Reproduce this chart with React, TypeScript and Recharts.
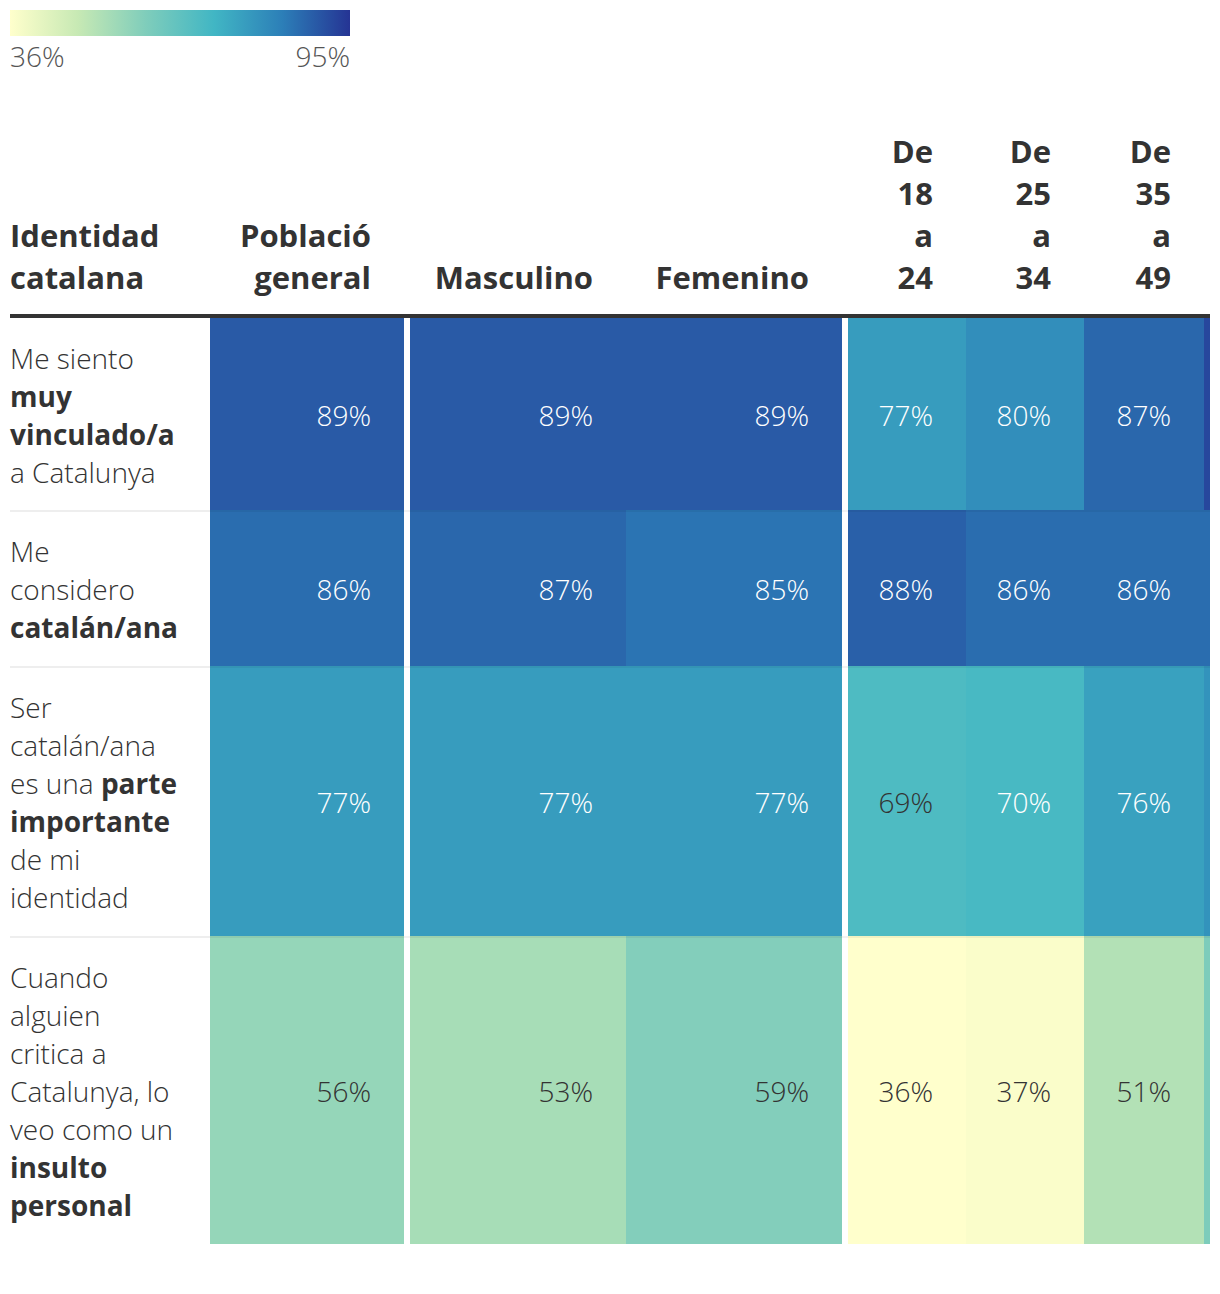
import React from "react";
import { ComposedChart, XAxis, YAxis, ReferenceArea } from "recharts";

// ---------- data ----------
const CORNER_HEADER = ["Identidad", "catalana"];
const COLUMN_HEADERS = [
  ["Població", "general"],
  ["Masculino"],
  ["Femenino"],
  ["De", "18", "a", "24"],
  ["De", "25", "a", "34"],
  ["De", "35", "a", "49"],
  [],
];

type Seg = [string, boolean];
const ROW_LABELS: Seg[][][] = [
  [[["Me siento", false]], [["muy", true]], [["vinculado/a", true]], [["a Catalunya", false]]],
  [[["Me", false]], [["considero", false]], [["catalán/ana", true]]],
  [
    [["Ser", false]],
    [["catalán/ana", false]],
    [["es una ", false], ["parte", true]],
    [["importante", true]],
    [["de mi", false]],
    [["identidad", false]],
  ],
  [
    [["Cuando", false]],
    [["alguien", false]],
    [["critica a", false]],
    [["Catalunya, lo", false]],
    [["veo como un", false]],
    [["insulto", true]],
    [["personal", true]],
  ],
];

const VINCULADO = [89, 89, 89, 77, 80, 87, 92];
const CATALAN = [86, 87, 85, 88, 86, 86, 86];
const IDENTIDAD = [77, 77, 77, 69, 70, 76, 79];
const INSULTO = [56, 53, 59, 36, 37, 51, 60];
const VALUES = [VINCULADO, CATALAN, IDENTIDAD, INSULTO];

const SCALE_MIN = 36;
const SCALE_MAX = 95;
const LEGEND_LABELS = ["36%", "95%"];

// ---------- layout / style ----------
const COL_WIDTHS = [194, 216, 216, 118, 118, 120, 120];
const GAP_AFTER = [6, 0, 6, 0, 0, 0, 0];
const ROW_HEIGHTS = [192, 156, 270, 308];
const STOPS = ["#ffffcc", "#c7e9b4", "#7fcdbb", "#41b6c4", "#2c7fb8", "#253494"];
const FONT = "'Open Sans', 'Noto Sans', sans-serif";
const TEXT = "#333333";
const HEAD_SIZE = 31;
const BODY_SIZE = 28;

const PLOT_LEFT = 210;
const PLOT_TOP = 318;
const PLOT_W = 1000;
const PLOT_H = ROW_HEIGHTS.reduce((a, b) => a + b, 0);
const W = 1220;
const H = 1294;

const colStarts: number[] = [];
{
  let x = 0;
  COL_WIDTHS.forEach((w, i) => {
    colStarts.push(x);
    x += w + GAP_AFTER[i];
  });
}
const rowStarts: number[] = [];
{
  let y = 0;
  ROW_HEIGHTS.forEach((h) => {
    rowStarts.push(y);
    y += h;
  });
}

function hexToRgb(h: string) {
  return [1, 3, 5].map((i) => parseInt(h.slice(i, i + 2), 16));
}
function colorFor(v: number) {
  const t = Math.max(0, Math.min(1, (v - SCALE_MIN) / (SCALE_MAX - SCALE_MIN)));
  const n = STOPS.length;
  const pos = t * (n - 1);
  const i = Math.min(Math.floor(pos), n - 2);
  const f = pos - i;
  const a = hexToRgb(STOPS[i]);
  const b = hexToRgb(STOPS[i + 1]);
  const c = a.map((x, k) => Math.round(x + (b[k] - x) * f));
  return `rgb(${c[0]},${c[1]},${c[2]})`;
}

const PAD_RIGHT = 33;

export default function App() {
  const cells: any[] = [];
  VALUES.forEach((row, r) => {
    row.forEach((v, c) => {
      cells.push({ r, c, v });
    });
  });

  return (
    <div
      style={{
        position: "absolute",
        left: 0,
        top: 0,
        width: W,
        height: H,
        fontFamily: FONT,
        color: TEXT,
        background: "#fff",
        overflow: "hidden",
      }}
    >
      {/* legend */}
      <div
        style={{
          position: "absolute",
          left: 10,
          top: 10,
          width: 340,
          height: 26,
          background: `linear-gradient(to right, ${STOPS.join(",")})`,
        }}
      />
      <div style={{ position: "absolute", left: 10, top: 37, fontSize: BODY_SIZE, fontWeight: 300, color: "#555", lineHeight: "38px" }}>
        {LEGEND_LABELS[0]}
      </div>
      <div
        style={{
          position: "absolute",
          left: 10,
          width: 340,
          top: 37,
          textAlign: "right",
          fontSize: BODY_SIZE,
          fontWeight: 300,
          color: "#555",
          lineHeight: "38px",
        }}
      >
        {LEGEND_LABELS[1]}
      </div>

      {/* chart */}
      <div style={{ position: "absolute", left: 0, top: 0 }}>
        <ComposedChart
          width={W}
          height={H}
          data={cells}
          margin={{ top: PLOT_TOP, left: PLOT_LEFT, right: W - PLOT_LEFT - PLOT_W, bottom: H - PLOT_TOP - PLOT_H }}
        >
          <XAxis type="number" dataKey="c" domain={[0, PLOT_W]} hide allowDataOverflow />
          <YAxis type="number" dataKey="r" domain={[0, PLOT_H]} reversed hide allowDataOverflow />
          {cells.map((cell) => {
            const x1 = colStarts[cell.c];
            const x2 = x1 + COL_WIDTHS[cell.c];
            const y1 = rowStarts[cell.r];
            const y2 = y1 + ROW_HEIGHTS[cell.r];
            const fill = colorFor(cell.v);
            const txt = cell.v >= 70 ? "#ffffff" : TEXT;
            return (
              <ReferenceArea
                key={`${cell.r}-${cell.c}`}
                x1={x1}
                x2={x2}
                y1={y1}
                y2={y2}
                fill={fill}
                fillOpacity={1}
                stroke="none"
                ifOverflow="hidden"
                isFront={false}
                label={(p: any) => {
                  const vb = p.viewBox || {};
                  if (vb.x + vb.width > W - 10 + 1) return null;
                  return (
                    <text
                      x={vb.x + vb.width - PAD_RIGHT}
                      y={vb.y + vb.height / 2 + 1}
                      textAnchor="end"
                      dominantBaseline="central"
                      fontFamily={FONT}
                      fontSize={BODY_SIZE}
                      fontWeight={300}
                      fill={txt}
                    >
                      {`${cell.v}%`}
                    </text>
                  );
                }}
              />
            );
          })}
        </ComposedChart>
      </div>

      {/* header */}
      <div
        style={{
          position: "absolute",
          left: 10,
          top: 298 - CORNER_HEADER.length * 42,
          fontSize: HEAD_SIZE,
          fontWeight: 700,
          lineHeight: "42px",
          whiteSpace: "nowrap",
        }}
      >
        {CORNER_HEADER.map((l, i) => (
          <div key={i}>{l}</div>
        ))}
      </div>
      {COLUMN_HEADERS.map((lines, c) =>
        lines.length === 0 ? null : (
          <div
            key={c}
            style={{
              position: "absolute",
              left: PLOT_LEFT + colStarts[c] - 100,
              width: COL_WIDTHS[c] + 100 - PAD_RIGHT,
              top: 298 - lines.length * 42,
              textAlign: "right",
              fontSize: HEAD_SIZE,
              fontWeight: 700,
              lineHeight: "42px",
              whiteSpace: "nowrap",
            }}
          >
            {lines.map((l, i) => (
              <div key={i}>{l}</div>
            ))}
          </div>
        )
      )}
      <div style={{ position: "absolute", left: 10, top: 314, width: 1200, height: 4, background: "#333" }} />

      {/* row labels */}
      {ROW_LABELS.map((lines, r) => (
        <div
          key={r}
          style={{
            position: "absolute",
            left: 10,
            top: PLOT_TOP + rowStarts[r] + 1,
            width: 198,
            height: ROW_HEIGHTS[r],
            display: "flex",
            flexDirection: "column",
            justifyContent: "center",
            fontSize: BODY_SIZE,
            lineHeight: "38px",
            fontWeight: 300,
            whiteSpace: "nowrap",
          }}
        >
          {lines.map((segs, i) => (
            <div key={i}>
              {segs.map(([t, b], k) => (
                <span key={k} style={{ fontWeight: b ? 700 : 300 }}>
                  {t}
                </span>
              ))}
            </div>
          ))}
        </div>
      ))}
      {/* row separators */}
      {rowStarts.slice(1).map((y, i) => (
        <React.Fragment key={i}>
          <div style={{ position: "absolute", left: 10, top: PLOT_TOP + y, width: 200, height: 2, background: "#eeeeee" }} />
          <div
            style={{
              position: "absolute",
              left: PLOT_LEFT,
              top: PLOT_TOP + y,
              width: PLOT_W,
              height: 2,
              background: "rgba(0,0,0,0.05)",
            }}
          />
        </React.Fragment>
      ))}
    </div>
  );
}
